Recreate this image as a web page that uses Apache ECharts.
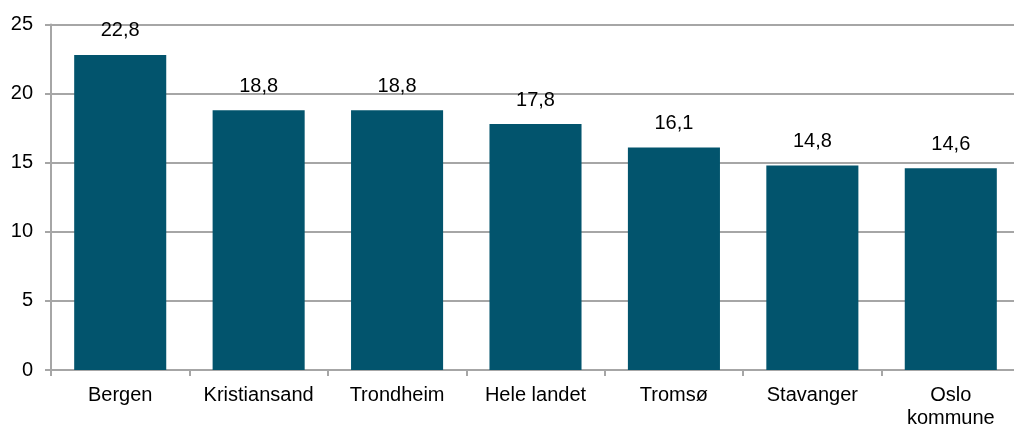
<!DOCTYPE html>
<html>
<head>
<meta charset="utf-8">
<script src="https://cdn.jsdelivr.net/npm/echarts@6/dist/echarts.min.js"></script>
<style>
  html, body { margin: 0; padding: 0; background: #ffffff; }
  #chart { width: 1014px; height: 428px; }
</style>
</head>
<body>
<div id="chart"></div>
<script>
// Categories and values
const categories = ['Bergen', 'Kristiansand', 'Trondheim', 'Hele landet', 'Tromsø', 'Stavanger', 'Oslo\nkommune'];
const values = [22.8, 18.8, 18.8, 17.8, 16.1, 14.8, 14.6];
const yTicks = { min: 0, max: 25, interval: 5 };

const chart = echarts.init(document.getElementById('chart'));
const font = 'Liberation Sans, Arial, sans-serif';

chart.setOption({
  animation: false,
  // the plot area runs a few pixels past the right edge of the canvas
  grid: { left: 51, width: 969, top: 24.5, bottom: 58, containLabel: false, outerBoundsMode: 'none' },
  xAxis: {
    type: 'category',
    data: categories,
    axisLine: { show: true, lineStyle: { color: '#a6a6a6', width: 2 } },
    axisTick: { show: true, length: 6, alignWithLabel: false, lineStyle: { color: '#a6a6a6', width: 2 } },
    axisLabel: { color: '#000', fontFamily: font, fontSize: 20, margin: 14, lineHeight: 23, interval: 0 }
  },
  yAxis: {
    type: 'value',
    min: yTicks.min,
    max: yTicks.max,
    interval: yTicks.interval,
    axisLine: { show: true, lineStyle: { color: '#a6a6a6', width: 2 } },
    axisTick: { show: true, length: 6, lineStyle: { color: '#a6a6a6', width: 2 } },
    splitLine: { show: true, lineStyle: { color: '#a6a6a6', width: 2 } },
    axisLabel: { color: '#000', fontFamily: font, fontSize: 20, margin: 18 }
  },
  series: [{
    type: 'bar',
    data: values,
    barCategoryGap: '33.5%',
    itemStyle: { color: '#02546d' },
    label: {
      show: true,
      position: 'top',
      distance: 14,
      color: '#000',
      fontFamily: font,
      fontSize: 20,
      formatter: p => String(p.value).replace('.', ',')
    }
  }]
});
</script>
</body>
</html>
